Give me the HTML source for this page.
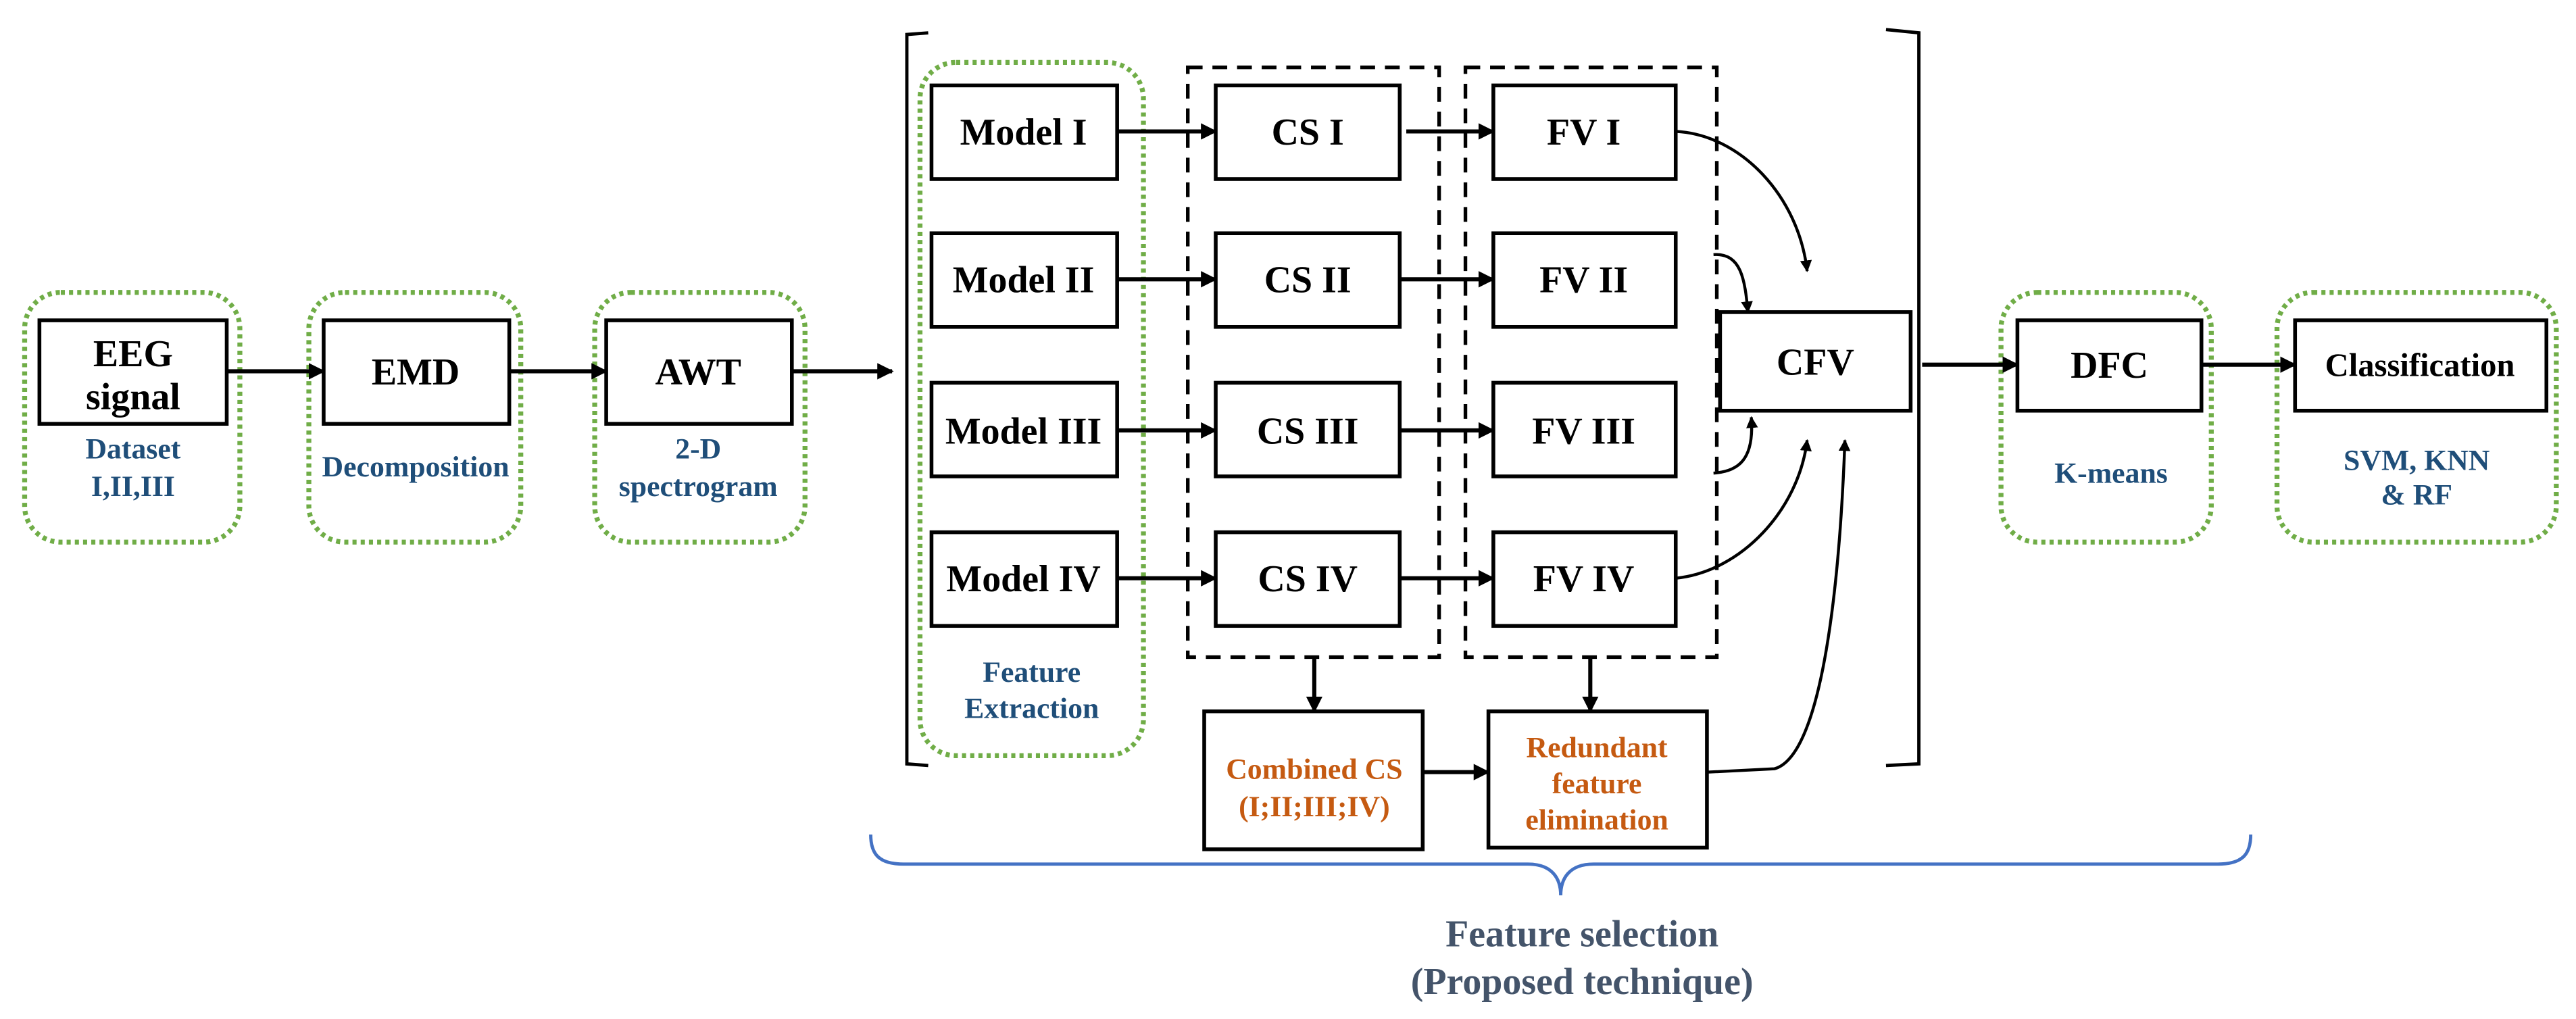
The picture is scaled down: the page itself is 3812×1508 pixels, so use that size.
<!DOCTYPE html>
<html><head><meta charset="utf-8"><style>html,body{margin:0;padding:0;background:#fff;}svg{display:block}</style></head>
<body>
<svg width="3812" height="1508" viewBox="0 0 1568 620.3" preserveAspectRatio="none" xmlns="http://www.w3.org/2000/svg" font-family="Liberation Serif, serif" font-weight="bold">
<defs>
<marker id="a" viewBox="0 0 10 10" refX="9" refY="5" markerWidth="4" markerHeight="4" orient="auto-start-reverse"><path d="M0,0 L10,5 L0,10 z" fill="#000"/></marker>
</defs>
<g fill="none" stroke="#70ad47" stroke-width="3" stroke-dasharray="2.5 2.5">
<rect x="15" y="178" width="131" height="152" rx="22"/>
<rect x="188" y="178" width="129" height="152" rx="22"/>
<rect x="362" y="178" width="128" height="152" rx="22"/>
<rect x="560" y="38" width="136" height="422" rx="22"/>
<rect x="1218" y="178" width="128" height="152" rx="22"/>
<rect x="1386" y="178" width="170" height="152" rx="22"/>
</g>
<g fill="none" stroke="#000" stroke-width="2.2" stroke-dasharray="9 6">
<rect x="723" y="41" width="153" height="359"/>
<rect x="892" y="41" width="153" height="359"/>
</g>
<g fill="#fff" stroke="#000" stroke-width="2.3">
<rect x="24" y="195" width="114" height="63"/>
<rect x="197" y="195" width="113" height="63"/>
<rect x="369" y="195" width="113" height="63"/>
<rect x="567" y="52" width="113" height="57"/>
<rect x="567" y="142" width="113" height="57"/>
<rect x="567" y="233" width="113" height="57"/>
<rect x="567" y="324" width="113" height="57"/>
<rect x="740" y="52" width="112" height="57"/>
<rect x="740" y="142" width="112" height="57"/>
<rect x="740" y="233" width="112" height="57"/>
<rect x="740" y="324" width="112" height="57"/>
<rect x="909" y="52" width="111" height="57"/>
<rect x="909" y="142" width="111" height="57"/>
<rect x="909" y="233" width="111" height="57"/>
<rect x="909" y="324" width="111" height="57"/>
<rect x="1047" y="190" width="116" height="60"/>
<rect x="1228" y="195" width="112" height="55"/>
<rect x="1397" y="195" width="153" height="55"/>
<rect x="733" y="433" width="133" height="84"/>
<rect x="906" y="433" width="133" height="83"/>
</g>
<g fill="none" stroke="#000" stroke-width="2">
<path d="M565,20 L552,21 L552,465 L565,466"/>
<path d="M1148,18 L1168,20 L1168,465 L1148,466"/>
</g>
<g fill="none" stroke="#000" stroke-width="2.5" marker-end="url(#a)">
<path d="M138,226 L197,226"/><path d="M310,226 L369,226"/><path d="M482,226 L543,226"/>
<path d="M680,80 L740,80"/><path d="M680,170 L740,170"/><path d="M680,262 L740,262"/><path d="M680,352 L740,352"/>
<path d="M856,80 L909,80"/><path d="M852,170 L909,170"/><path d="M852,262 L909,262"/><path d="M852,352 L909,352"/>
<path d="M1170,222 L1228,222"/><path d="M1340,222 L1397,222"/>
<path d="M800,400 L800,433"/><path d="M968,400 L968,433"/>
<path d="M866,470 L906,470"/>
</g>
<g fill="none" stroke="#000" stroke-width="1.8" marker-end="url(#a)">
<path d="M1020,80 C1060,82 1095,120 1100,165"/>
<path d="M1043,155 C1060,154 1062,170 1064,190"/>
<path d="M1043,288 C1058,287 1068,280 1066,254"/>
<path d="M1020,352 C1060,348 1095,310 1100,268"/>
<path d="M1040,470 L1080,468 C1110,460 1120,350 1123,268"/>
</g>
<path d="M530,508 C530,520 535,526 550,526 L930,526 C945,526 950,535 950,545 C950,535 955,526 970,526 L1350,526 C1365,526 1370,520 1370,508" fill="none" stroke="#4472c4" stroke-width="2"/>
<g text-anchor="middle" font-size="23" fill="#000">
<text x="81" y="223">EEG</text><text x="81" y="249">signal</text>
<text x="253" y="234">EMD</text><text x="425" y="234">AWT</text>
<text x="623" y="88">Model I</text><text x="623" y="178">Model II</text><text x="623" y="270">Model III</text><text x="623" y="360">Model IV</text>
<text x="796" y="88">CS I</text><text x="796" y="178">CS II</text><text x="796" y="270">CS III</text><text x="796" y="360">CS IV</text>
<text x="964" y="88">FV I</text><text x="964" y="178">FV II</text><text x="964" y="270">FV III</text><text x="964" y="360">FV IV</text>
<text x="1105" y="228">CFV</text><text x="1284" y="230">DFC</text>
<text x="1473" y="229" font-size="20">Classification</text>
</g>
<g text-anchor="middle" font-size="18" fill="#1f4e79">
<text x="81" y="279">Dataset</text><text x="81" y="302">I,II,III</text>
<text x="253" y="290">Decomposition</text>
<text x="425" y="279">2-D</text><text x="425" y="302">spectrogram</text>
<text x="628" y="415">Feature</text><text x="628" y="437">Extraction</text>
<text x="1285" y="294">K-means</text>
<text x="1471" y="286">SVM, KNN</text><text x="1471" y="307">&amp; RF</text>
</g>
<g text-anchor="middle" font-size="18" fill="#c55a11">
<text x="800" y="474">Combined CS</text><text x="800" y="497">(I;II;III;IV)</text>
<text x="972" y="461">Redundant</text><text x="972" y="483">feature</text><text x="972" y="505">elimination</text>
</g>
<g text-anchor="middle" font-size="23" fill="#44546a">
<text x="963" y="576">Feature selection</text><text x="963" y="605">(Proposed technique)</text>
</g>
</svg>
</body></html>
